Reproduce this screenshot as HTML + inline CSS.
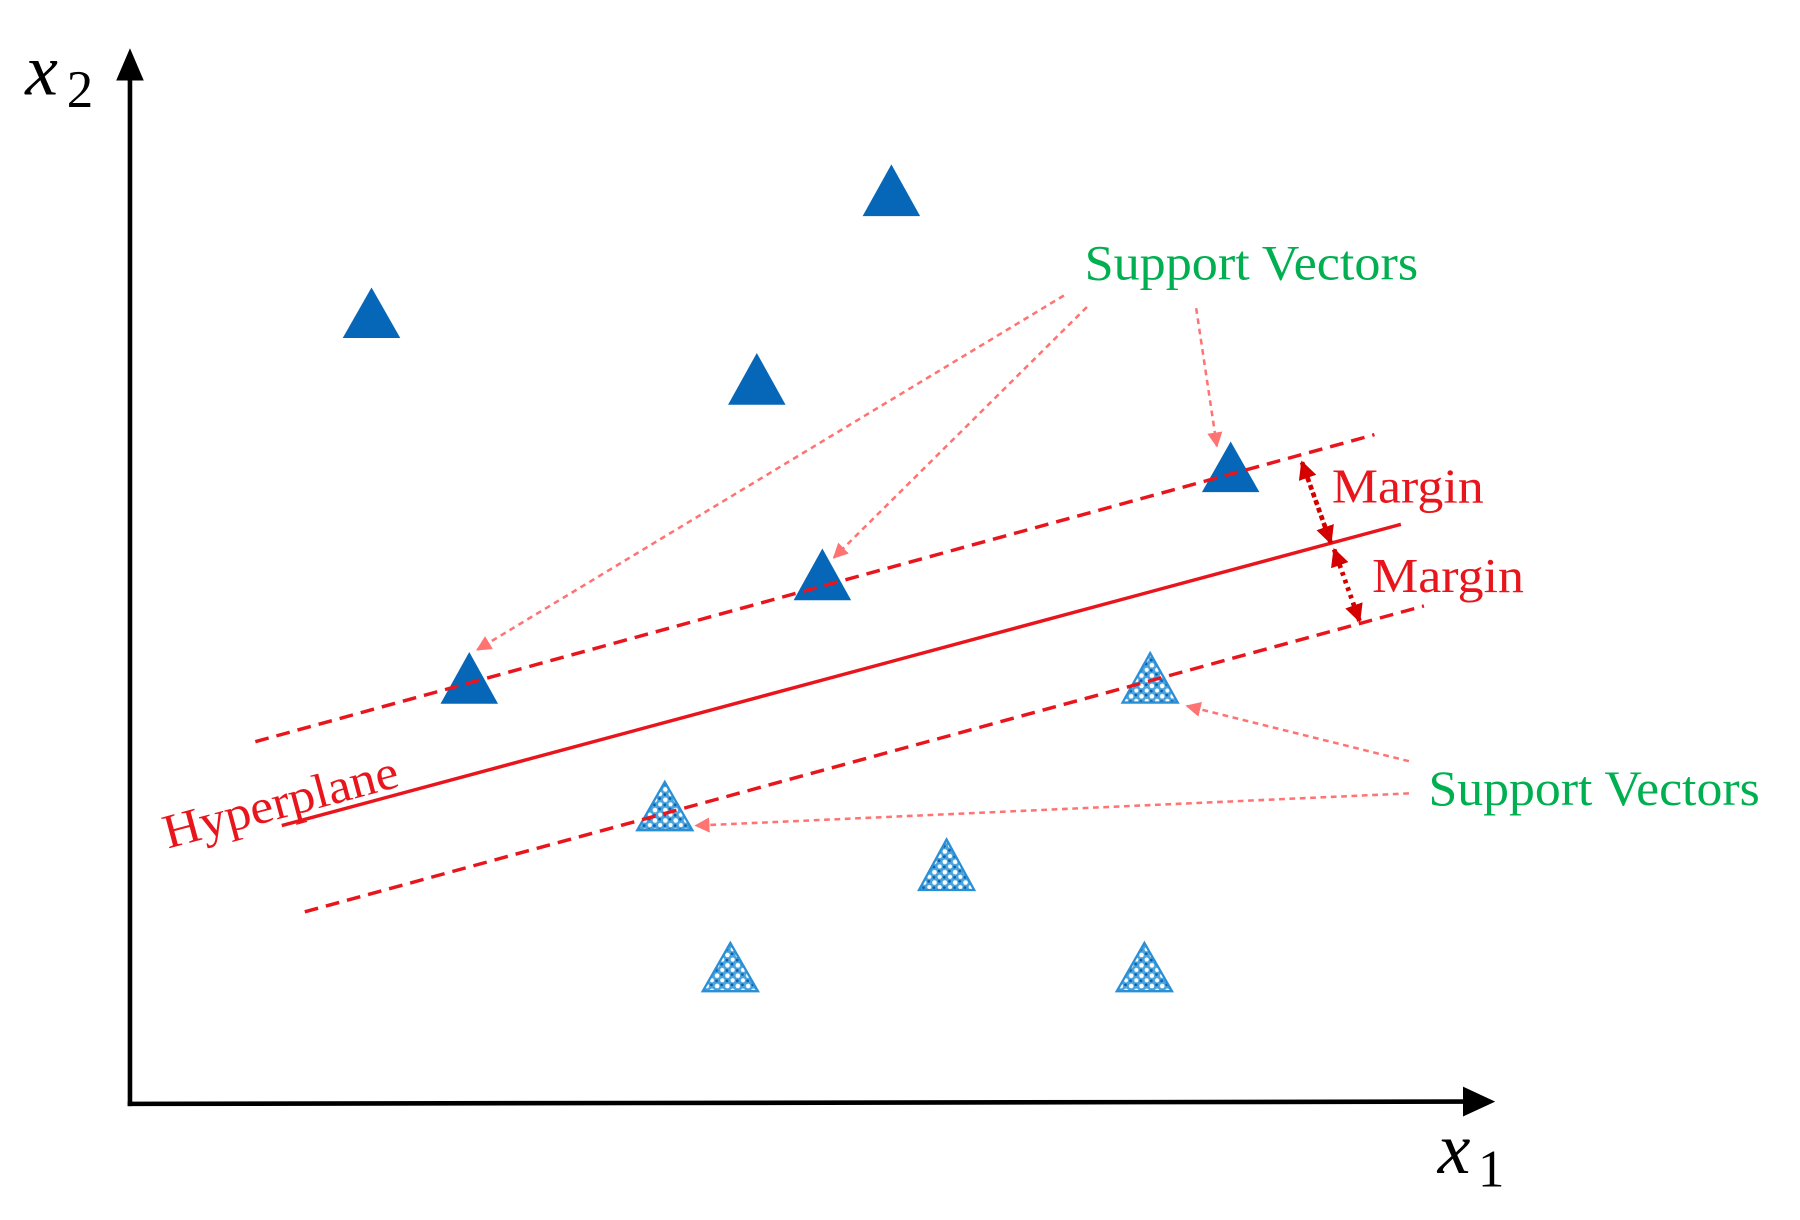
<!DOCTYPE html>
<html><head><meta charset="utf-8"><style>html,body{margin:0;padding:0;background:#fff;width:1800px;height:1220px;overflow:hidden}svg{display:block}</style></head>
<body>
<svg width="1800" height="1220" viewBox="0 0 1565 1061" preserveAspectRatio="none" xmlns="http://www.w3.org/2000/svg">
<defs>
<pattern id="dots" width="9" height="9" patternUnits="userSpaceOnUse">
<rect width="9" height="9" fill="#4aa3dc"/>
<circle cx="2.5" cy="2.5" r="2" fill="#fff"/><circle cx="7" cy="6.5" r="1.8" fill="#fff"/>
<circle cx="6.5" cy="1.5" r="1.2" fill="#0a5fae"/><circle cx="2" cy="7" r="1.2" fill="#0a5fae"/>
</pattern>
<marker id="pk" viewBox="0 0 10 10" refX="9" refY="5" markerWidth="6" markerHeight="6" orient="auto"><path d="M0,0L10,5L0,10z" fill="#ff7373"/></marker>
<marker id="rd" viewBox="0 0 10 10" refX="9" refY="5" markerWidth="4" markerHeight="4" orient="auto"><path d="M0,0L10,5L0,10z" fill="#d40000"/></marker>
</defs>
<g stroke="#000" stroke-width="4" fill="none">
<line x1="113" y1="962" x2="113" y2="66"/>
<line x1="111" y1="960" x2="1275" y2="958"/>
</g>
<path d="M101,70L113,42L125,70z" fill="#000"/>
<path d="M1272,945L1300,958L1272,971z" fill="#000"/>
<text x="22" y="82" font-family="Liberation Serif,serif" font-style="italic" font-size="64">x</text>
<text x="58" y="93" font-family="Liberation Serif,serif" font-size="46">2</text>
<text x="1250" y="1020" font-family="Liberation Serif,serif" font-style="italic" font-size="64">x</text>
<text x="1285" y="1032" font-family="Liberation Serif,serif" font-size="46">1</text>
<g fill="#0666b8">
<path d="M775,143L800,188L750,188z"/>
<path d="M323,250L348,294L298,294z"/>
<path d="M658,307L683,352L633,352z"/>
<path d="M1070,384L1095,428L1045,428z"/>
<path d="M715,477L740,522L690,522z"/>
<path d="M408,567L433,612L383,612z"/>
</g>
<g fill="url(#dots)" stroke="#2b8fd6" stroke-width="2">
<path d="M1000,568L1024,611L976,611z"/>
<path d="M578,680L602,722L554,722z"/>
<path d="M823,730L847,774L799,774z"/>
<path d="M635,820L659,862L611,862z"/>
<path d="M995,820L1019,862L971,862z"/>
</g>
<g stroke="#e8161c" stroke-width="3" fill="none">
<line x1="222" y1="645" x2="1195" y2="378" stroke-dasharray="12,7"/>
<line x1="245" y1="718" x2="1218" y2="456"/>
<line x1="265" y1="793" x2="1238" y2="527" stroke-dasharray="12,7"/>
</g>
<g stroke="#d40000" stroke-width="4" stroke-dasharray="3,4">
<line x1="1157" y1="472" x2="1132" y2="402" marker-end="url(#rd)"/>
<line x1="1132" y1="402" x2="1157" y2="472" marker-end="url(#rd)"/>
<line x1="1182" y1="540" x2="1160" y2="478" marker-end="url(#rd)"/>
<line x1="1160" y1="478" x2="1182" y2="540" marker-end="url(#rd)"/>
</g>
<g font-family="Liberation Serif,serif" font-size="42" fill="#e8161c">
<text x="1158" y="437" textLength="132" lengthAdjust="spacingAndGlyphs">Margin</text>
<text x="1193" y="515" textLength="132" lengthAdjust="spacingAndGlyphs">Margin</text>
<text x="0" y="0" transform="translate(146,738) rotate(-15)" textLength="210" lengthAdjust="spacingAndGlyphs">Hyperplane</text>
</g>
<g font-family="Liberation Serif,serif" font-size="43" fill="#00b050">
<text x="943" y="243" textLength="290" lengthAdjust="spacingAndGlyphs">Support Vectors</text>
<text x="1242" y="700" textLength="288" lengthAdjust="spacingAndGlyphs">Support Vectors</text>
</g>
<g stroke="#ff7373" stroke-width="2.2" stroke-dasharray="5,4" fill="none">
<line x1="925" y1="257" x2="415" y2="565" marker-end="url(#pk)"/>
<line x1="945" y1="267" x2="725" y2="485" marker-end="url(#pk)"/>
<line x1="1040" y1="268" x2="1058" y2="388" marker-end="url(#pk)"/>
<line x1="1225" y1="662" x2="1032" y2="614" marker-end="url(#pk)"/>
<line x1="1225" y1="690" x2="605" y2="718" marker-end="url(#pk)"/>
</g>
</svg>
</body></html>
